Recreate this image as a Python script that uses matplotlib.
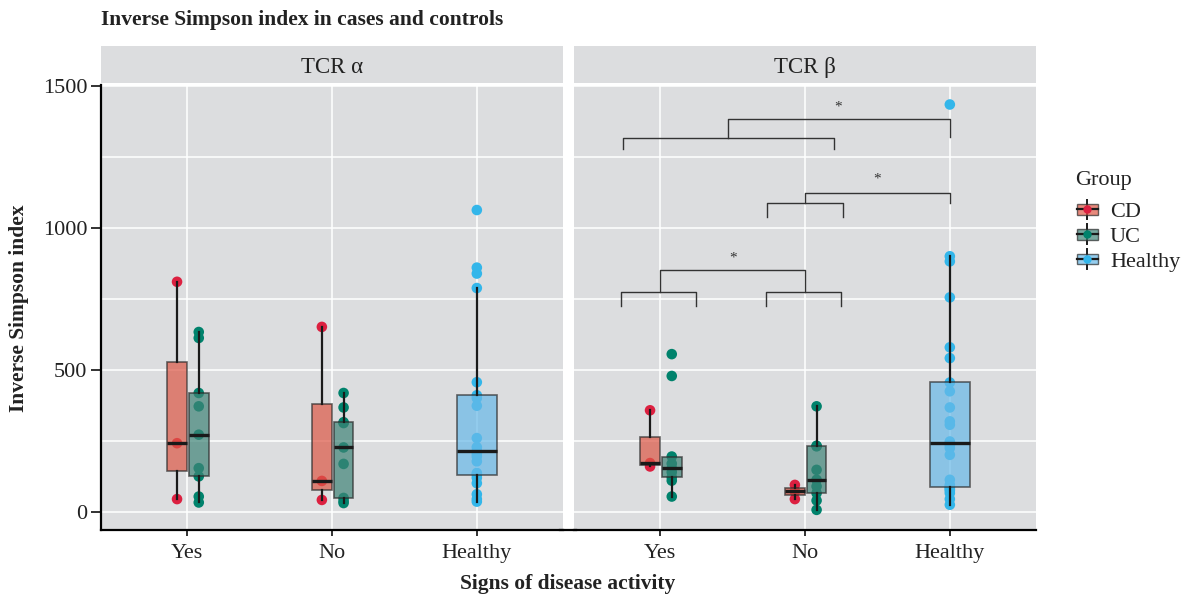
import matplotlib.pyplot as plt
import numpy as np
from matplotlib.lines import Line2D
from matplotlib.patches import Rectangle
from matplotlib.legend_handler import HandlerBase

plt.rcParams['font.family'] = ['Liberation Serif', 'DejaVu Serif']

# categories
activity = ["Yes", "No", "Healthy"]
groups = ["CD", "UC", "Healthy"]

# TCR alpha values
a_cd_yes = [45, 242, 811]
a_uc_yes = [33, 54, 125, 154, 272, 372, 419, 613, 634]
a_cd_no = [42, 109, 652]
a_uc_no = [31, 38, 49, 169, 227, 313, 316, 368, 419]
a_healthy = [36, 45, 62, 101, 120, 131, 137, 178, 195, 205, 215, 228, 260,
             374, 401, 411, 457, 789, 840, 861, 1064]

# TCR beta values
b_cd_yes = [160, 172, 358]
b_uc_yes = [54, 110, 122, 140, 154, 170, 195, 479, 556]
b_cd_no = [45, 72, 95]
b_uc_no = [7, 40, 66, 90, 113, 148, 231, 233, 372]
b_healthy = [25, 45, 66, 75, 80, 86, 89, 95, 113, 201, 225, 235, 242, 248,
             307, 319, 368, 425, 456, 542, 580, 756, 883, 901, 1436]

# significance brackets on TCR beta panel (x in category units, y in index units)
bracket_x = [[-0.27, -0.27, 0.25, 0.25], [0.73, 0.73, 1.25, 1.25], [0, 0, 1, 1],
             [0.74, 0.74, 1.26, 1.26], [1, 1, 2, 2],
             [-0.26, -0.26, 1.2, 1.2], [0.47, 0.47, 2, 2]]
bracket_y = [[727, 775, 775, 727], [727, 775, 775, 727], [775, 854, 854, 775],
             [1040, 1088, 1088, 1040], [1088, 1125, 1125, 1089],
             [1278, 1317, 1317, 1278], [1317, 1386, 1386, 1323]]
star_x = [0.5, 1.5, 1.23]
star_y = [893, 1174, 1427]

fill_col = {"CD": "#DD5745", "UC": "#3F8477", "Healthy": "#68B9E8"}
point_col = {"CD": "#DC2040", "UC": "#00826C", "Healthy": "#33B6EA"}
bg = "#DCDDDF"
txt = '#222222'

panels = [
    ("TCR α", [("CD", 0, a_cd_yes), ("UC", 0, a_uc_yes), ("CD", 1, a_cd_no),
               ("UC", 1, a_uc_no), ("Healthy", 2, a_healthy)]),
    ("TCR β", [("CD", 0, b_cd_yes), ("UC", 0, b_uc_yes), ("CD", 1, b_cd_no),
               ("UC", 1, b_uc_no), ("Healthy", 2, b_healthy)]),
]
offset = {"CD": -0.07, "UC": 0.08, "Healthy": 0.0}
width = {"CD": 0.135, "UC": 0.135, "Healthy": 0.276}

W, H = 1187, 598
fig = plt.figure(figsize=(W / 100, H / 100), dpi=100)

lefts = [101, 574]
axes = []
for i, (strip, boxes) in enumerate(panels):
    ax = fig.add_axes([lefts[i] / W, (H - 530) / H, 462 / W, 444.5 / H])
    ax.set_facecolor(bg)
    for g, xi, vals in boxes:
        pos = xi + offset[g]
        ax.scatter([pos] * len(vals), vals, s=58, color=point_col[g],
                   edgecolor='none', zorder=2)
        bp = ax.boxplot([vals], positions=[pos], widths=width[g], patch_artist=True,
                        showfliers=False, showcaps=False, manage_ticks=False,
                        boxprops=dict(facecolor=fill_col[g], edgecolor='#2b2b2b',
                                      linewidth=1.2, alpha=0.7),
                        medianprops=dict(color='#1a1a1a', linewidth=2.4),
                        whiskerprops=dict(color='#1a1a1a', linewidth=1.6))
        for b in bp['boxes']:
            b.set_zorder(3)
        for ln in bp['medians'] + bp['whiskers']:
            ln.set_zorder(4)
    ax.set_xlim(-0.595, 2.595)
    ax.set_ylim(-64, 1503)
    ax.set_xticks(range(3))
    ax.set_xticklabels(activity)
    ax.set_yticks([0, 500, 1000, 1500])
    ax.set_yticks([250, 750, 1250], minor=True)
    ax.grid(True, which='both', color='white', linewidth=1.1)
    ax.set_axisbelow(True)
    ax.tick_params(axis='x', which='major', length=4, width=1.3, pad=6,
                   labelsize=16, colors=txt)
    ax.tick_params(axis='y', which='major', length=7, width=1.3, pad=3,
                   labelsize=16, colors=txt)
    ax.tick_params(axis='y', which='minor', length=0)
    for s in ['top', 'right']:
        ax.spines[s].set_visible(False)
    ax.spines['bottom'].set_linewidth(1.6)
    ax.spines['left'].set_linewidth(1.6)
    if i == 1:
        ax.spines['left'].set_visible(False)
        ax.tick_params(axis='y', which='both', left=False, labelleft=False)
    # strip
    sax = fig.add_axes([lefts[i] / W, (H - 82.7) / H, 462 / W, 36.5 / H])
    sax.set_facecolor(bg)
    sax.set_xticks([])
    sax.set_yticks([])
    for s in sax.spines.values():
        s.set_visible(False)
    sax.text(0.5, 0.42, strip, ha='center', va='center', fontsize=16.5,
             color=txt, transform=sax.transAxes)
    axes.append(ax)

# brackets with stars on TCR beta
axb = axes[1]
for bx, by in zip(bracket_x, bracket_y):
    axb.plot(bx, by, color='#333333', linewidth=1.0, zorder=5)
for sx, sy in zip(star_x, star_y):
    axb.text(sx, sy, "*", ha='center', va='center', fontsize=11, color='#333333')

# bottom axis line across the panel gap
fig.add_artist(Line2D([560 / W, 576 / W], [(H - 530) / H] * 2, color='black',
                      linewidth=1.6, transform=fig.transFigure))

fig.text(101 / W, 1 - 20 / H, "Inverse Simpson index in cases and controls",
         fontsize=15.5, fontweight='bold', color=txt, va='center', ha='left')
fig.text(19 / W, 1 - 308 / H, "Inverse Simpson index", rotation=90, fontsize=15.5,
         fontweight='bold', color=txt, va='center', ha='center')
fig.text(567.5 / W, 1 - 584 / H, "Signs of disease activity", fontsize=15.5,
         fontweight='bold', color=txt, va='center', ha='center')


class KeyProxy:
    def __init__(self, fill, point):
        self.fill = fill
        self.point = point


class BoxKeyHandler(HandlerBase):
    def create_artists(self, legend, orig, xdescent, ydescent, width, height,
                       fontsize, trans):
        cx = width / 2 - xdescent
        cy = height / 2 - ydescent
        vline = Line2D([cx, cx], [cy - height / 2, cy + height / 2],
                       color='#1a1a1a', linewidth=1.4, transform=trans)
        rect = Rectangle((cx - width / 2, cy - height * 0.27), width, height * 0.54,
                         facecolor=orig.fill, edgecolor='#2b2b2b', linewidth=1.0,
                         alpha=0.7, transform=trans)
        med = Line2D([cx - width / 2, cx + width / 2], [cy, cy], color='#1a1a1a',
                     linewidth=1.6, transform=trans)
        dot = Line2D([cx], [cy], marker='o', markersize=6, color=orig.point,
                     markeredgecolor='none', transform=trans)
        return [vline, rect, med, dot]


# legend title placed as its own text
fig.text(1075 / W, 1 - 181 / H, "Group", fontsize=16, color=txt,
         va='center', ha='left')
handles = [KeyProxy(fill_col[g], point_col[g]) for g in groups]
leg = fig.legend(handles, groups, handler_map={KeyProxy: BoxKeyHandler()},
                 loc='upper left', bbox_to_anchor=(1061 / W, 1 - 184 / H),
                 frameon=False, fontsize=16,
                 handlelength=0.95, handleheight=1.0, handletextpad=0.55,
                 labelspacing=0.1, borderpad=0.2)
for t in leg.get_texts():
    t.set_color(txt)

fig.savefig("out.png", dpi=100)
